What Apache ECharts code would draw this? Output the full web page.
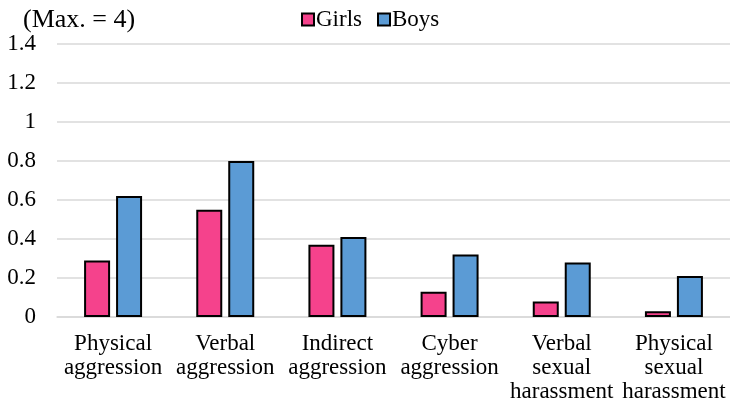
<!DOCTYPE html>
<html><head><meta charset="utf-8">
<script src="https://cdn.jsdelivr.net/npm/echarts@6/dist/echarts.min.js"></script>
<style>html,body{margin:0;padding:0;background:#fff}#c{width:730px;height:411px}</style>
</head><body><div id="c"></div>
<script>
const categories = ['Physical\naggression','Verbal\naggression','Indirect\naggression','Cyber\naggression','Verbal\nsexual\nharassment','Physical\nsexual\nharassment'];
const girls = [0.29, 0.55, 0.37, 0.13, 0.08, 0.03];
const boys = [0.62, 0.80, 0.41, 0.32, 0.28, 0.21];
const yTicks = [0, 0.2, 0.4, 0.6, 0.8, 1, 1.2, 1.4];
const font = '"Liberation Serif", "Times New Roman", serif';
const chart = echarts.init(document.getElementById('c'));
chart.setOption({
  animation: false,
  textStyle: {fontFamily: font},
  title: {text: '(Max. = 4)', left: 18, top: 2, textStyle: {fontFamily: font, fontSize: 26, fontWeight: 'normal', color: '#000'}},
  legend: {left: 296, top: 3, itemWidth: 12, itemHeight: 12, itemGap: 15,
    textStyle: {fontFamily: font, fontSize: 23, color: '#000', padding: [0,0,0,-3]},
    data: [{name:'Girls', icon:'rect'}, {name:'Boys', icon:'rect'}]},
  grid: {left: 57, right: 0, top: 44, bottom: 94},
  xAxis: {type: 'category', data: categories,
    axisLine: {lineStyle: {color: '#d9d9d9', width: 1.5}}, axisTick: {show: false},
    axisLabel: {interval: 0, fontFamily: font, fontSize: 23, color: '#000', lineHeight: 24, margin: 15}},
  yAxis: {type: 'value', min: 0, max: 1.4, interval: 0.2,
    axisLine: {show: false}, axisTick: {show: false},
    splitLine: {lineStyle: {color: '#d9d9d9', width: 1.5}},
    axisLabel: {fontFamily: font, fontSize: 23, color: '#000', margin: 21,
      formatter: v => { const t = yTicks.find(x => Math.abs(x - v) < 1e-6); return t === undefined ? '' : String(t); }}},
  series: [
    {name: 'Girls', type: 'bar', data: girls, barWidth: 26, barGap: '23%',
     itemStyle: {color: '#F5428C', borderColor: '#000', borderWidth: 2}},
    {name: 'Boys', type: 'bar', data: boys, barWidth: 26, barGap: '23%',
     itemStyle: {color: '#5B9BD5', borderColor: '#000', borderWidth: 2}}
  ]
});
</script></body></html>
